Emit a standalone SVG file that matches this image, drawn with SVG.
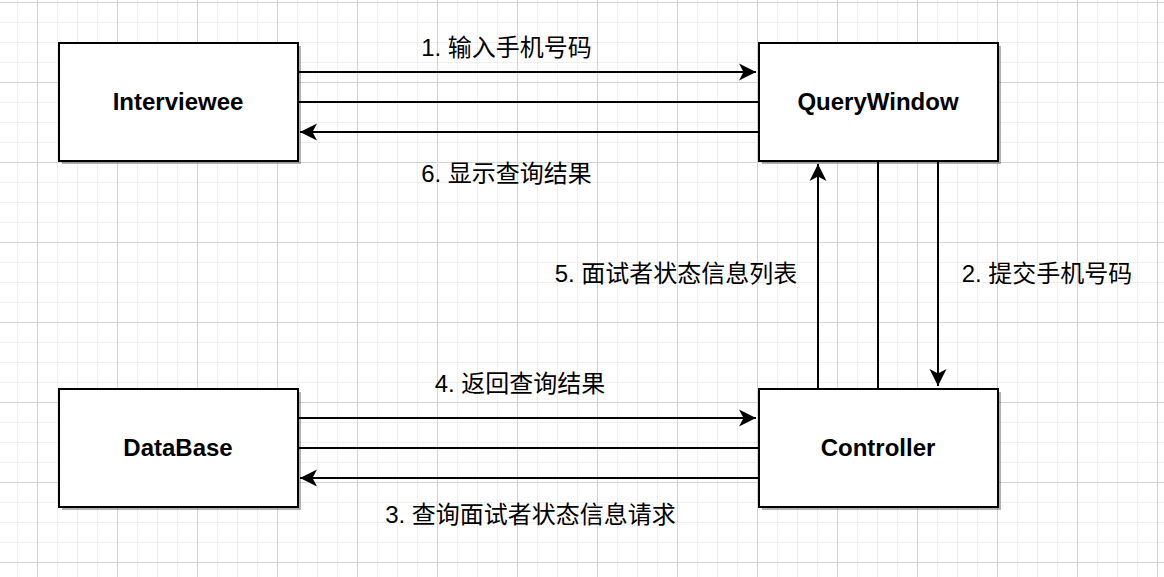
<svg xmlns="http://www.w3.org/2000/svg" width="1164" height="577" viewBox="0 0 1164 577">
<style>
.box{fill:#fff;stroke:#000;stroke-width:2}
.sh{fill:#000;opacity:0.3}
.lbl{font-family:"Liberation Sans",Arial,sans-serif;font-weight:bold;font-size:24px;fill:#000;text-anchor:middle}
.edge{fill:none;stroke:#000;stroke-width:2}
.txt{font-family:"Liberation Sans","Noto Sans CJK SC",sans-serif;font-size:24px;fill:#000;text-anchor:middle}
</style>
<defs>
<pattern id="grid" x="37" y="2" width="80" height="80" patternUnits="userSpaceOnUse">
<path d="M20.5,0V80M40.5,0V80M60.5,0V80M0,20.5H80M0,40.5H80M0,60.5H80" stroke="#efefef" stroke-width="1" fill="none"/>
<path d="M0.5,0V80M0,0.5H80" stroke="#d4d4d4" stroke-width="1" fill="none"/>
</pattern>
<marker id="arr" viewBox="-18 -9 19 18" refX="0" refY="0" markerWidth="19" markerHeight="18" markerUnits="userSpaceOnUse" orient="auto">
<path d="M0,0L-17,-8.5L-12.5,0L-17,8.5Z" fill="#000"/>
</marker>
</defs>
<rect width="1164" height="577" fill="#fff"/>
<rect width="1164" height="577" fill="url(#grid)"/>
<g id="connectors">
<path class="edge" d="M298,72H756" marker-end="url(#arr)"/>
<path class="edge" d="M298,102H758"/>
<path class="edge" d="M758,132H300" marker-end="url(#arr)"/>
<path class="edge" d="M818,388V164" marker-end="url(#arr)"/>
<path class="edge" d="M878,162V388"/>
<path class="edge" d="M938,162V386" marker-end="url(#arr)"/>
<path class="edge" d="M298,418H756" marker-end="url(#arr)"/>
<path class="edge" d="M298,448H758"/>
<path class="edge" d="M758,478H300" marker-end="url(#arr)"/>
<text class="txt" x="506.5" y="56">1. 输入手机号码</text>
<text class="txt" x="506.5" y="182">6. 显示查询结果</text>
<text class="txt" x="676" y="282">5. 面试者状态信息列表</text>
<text class="txt" x="1047" y="282">2. 提交手机号码</text>
<text class="txt" x="520" y="392">4. 返回查询结果</text>
<text class="txt" x="530.5" y="523">3. 查询面试者状态信息请求</text>
</g>
<g id="interviewee">
<rect class="sh" x="62" y="46" width="239" height="118"/>
<rect class="box" x="59" y="43" width="239" height="118"/>
<text class="lbl" x="178" y="110">Interviewee</text>
</g>
<g id="querywindow">
<rect class="sh" x="762" y="46" width="239" height="118"/>
<rect class="box" x="759" y="43" width="239" height="118"/>
<text class="lbl" x="878" y="110">QueryWindow</text>
</g>
<g id="database">
<rect class="sh" x="62" y="392" width="239" height="118"/>
<rect class="box" x="59" y="389" width="239" height="118"/>
<text class="lbl" x="178" y="456">DataBase</text>
</g>
<g id="controller">
<rect class="sh" x="762" y="392" width="239" height="118"/>
<rect class="box" x="759" y="389" width="239" height="118"/>
<text class="lbl" x="878" y="456">Controller</text>
</g>
</svg>
